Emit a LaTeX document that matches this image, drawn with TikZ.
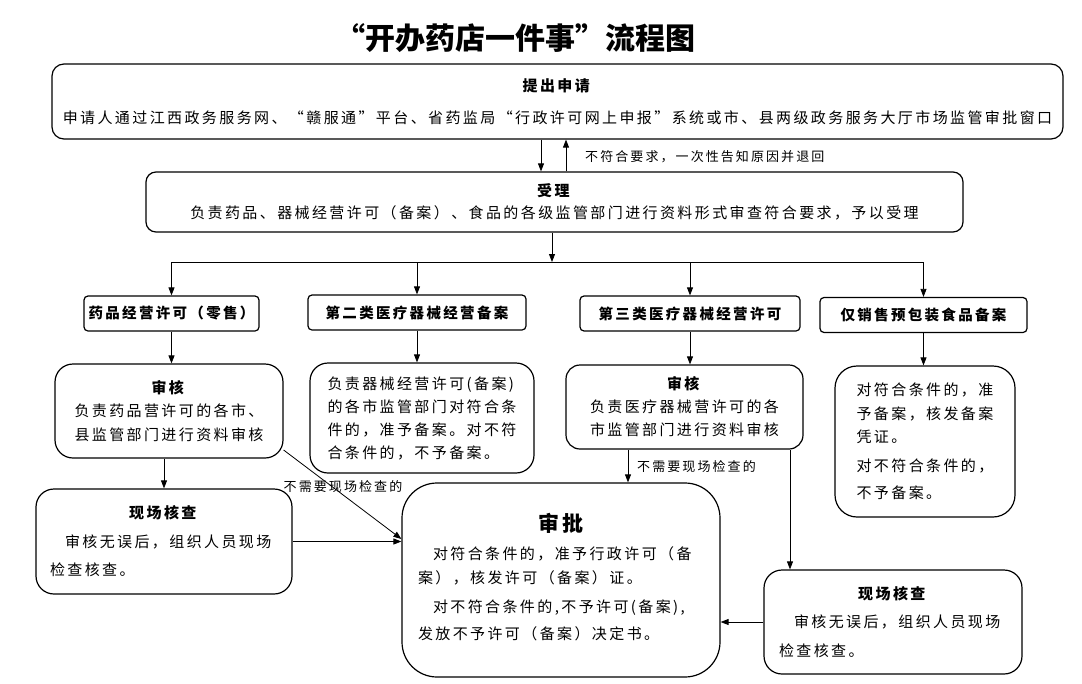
\documentclass[tikz,border=0pt]{standalone}
\usepackage{fontspec}
\setmainfont[LetterSpace=16]{Noto Sans CJK SC}
\newfontfamily\titlefont{Noto Sans CJK SC}
\usetikzlibrary{arrows.meta,calc}
\tikzset{
  bx/.style={draw,line width=1.2pt,inner sep=0pt,font=\fontsize{15}{23.5}\selectfont},
  hd/.style={draw,line width=1.2pt,rounded corners=4pt,inner sep=0pt,minimum height=35,font=\fontsize{14.5}{18}\selectfont\bfseries},
  ar/.style={-{Triangle[length=8pt,width=6pt]},line width=0.8pt},
  ln/.style={line width=0.8pt},
  lb/.style={inner sep=0pt,font=\fontsize{13}{15}\selectfont}
}

\begin{document}
\begin{tikzpicture}[x=1pt,y=-1pt]
\useasboundingbox (0,0) rectangle (1082,683);
\node[font=\titlefont\fontsize{30}{32}\selectfont\bfseries] (title) at (515,38) {“开办药店一件事”流程图};
\node[bx,rounded corners=12pt,minimum width=1011,minimum height=75,align=center] (apply) at (557.5,101.5) {\textbf{提出申请}\\[8.5pt]申请人通过江西政务服务网、“赣服通”平台、省药监局“行政许可网上申报”系统或市、县两级政务服务大厅市场监管审批窗口};
\node[bx,rounded corners=10pt,minimum width=817,minimum height=60,align=center,font=\fontsize{15}{22}\selectfont] (accept) at (554.5,202) {\textbf{受理}\\负责药品、器械经营许可（备案）、食品的各级监管部门进行资料形式审查符合要求，予以受理};
\foreach \n/\xx/\yy/\w/\t in {c1/171.5/313.5/175/药品经营许可（零售）,c2/417/312.5/218/第二类医疗器械经营备案,c3/690/313.5/220/第三类医疗器械经营许可,c4/923.5/315/207/仅销售预包装食品备案}{\node[hd,minimum width=\w] (\n) at (\xx,\yy) {\t};}
\node[bx,rounded corners=18pt,minimum width=228,minimum height=94,align=center] (rev1) at (169,411) {\textbf{审核}\\负责药品营许可的各市、\\县监管部门进行资料审核};
\node[bx,rounded corners=18pt,minimum width=224,minimum height=110,align=left,font=\fontsize{15}{23}\selectfont] (rec2) at (422,418) {负责器械经营许可(备案)\\的各市监管部门对符合条\\件的，准予备案。对不符\\合条件的，不予备案。};
\node[bx,rounded corners=14pt,minimum width=237,minimum height=84,align=center,font=\fontsize{15}{23}\selectfont] (rev3) at (684.5,407) {\textbf{审核}\\负责医疗器械营许可的各\\市监管部门进行资料审核};
\node[bx,rounded corners=22pt,minimum width=180,minimum height=151,align=left] (rec4) at (925,441.5) {对符合条件的，准\\予备案，核发备案\\凭证。\\[5pt]对不符合条件的，\\[4pt]不予备案。};
\node[bx,rounded corners=18pt,minimum width=256,minimum height=105,text width=228,align=left,font=\fontsize{15}{28.5}\selectfont] (site1) at (164,541.5) {\makebox[\linewidth]{\textbf{现场核查}}\\\hspace*{1em}审核无误后，组织人员现场\\检查核查。};
\node[bx,rounded corners=35pt,minimum width=318,minimum height=194,text width=286,align=left,font=\fontsize{15}{24}\selectfont] (approve) at (561,580) {\makebox[\linewidth]{\fontsize{21}{24}\selectfont\bfseries 审批}\\[4pt]\hspace*{1em}对符合条件的，准予行政许可（备\\案），核发许可（备案）证。\\[5pt]\hspace*{1em}对不符合条件的,不予许可(备案),\\[3pt]发放不予许可（备案）决定书。\\[-16pt]\mbox{}};
\node[bx,rounded corners=18pt,minimum width=258,minimum height=104,text width=228,align=left,font=\fontsize{15}{28.5}\selectfont] (site2) at (893,622) {\makebox[\linewidth]{\textbf{现场核查}}\\\hspace*{1em}审核无误后，组织人员现场\\检查核查。};
\draw[ar] ([xshift=-16.5pt]apply.south) -- ([xshift=-16.5pt]apply.south |- accept.north);
\draw[ar] ([xshift=8.5pt]apply.south |- accept.north) -- ([xshift=8.5pt]apply.south);
\node[lb,anchor=west] (back) at (585,157) {不符合要求，一次性告知原因并退回};
\coordinate (split) at (552,262);
\draw[ar] (accept.south -| split) -- (split);
\draw[ln] (c1.north |- split) -- (c4.north |- split);
\foreach \n in {c1,c2,c3,c4}{\draw[ar] (\n.north |- split) -- (\n.north);}
\foreach \a/\b in {c1/rev1,c2/rec2,c3/rev3,c4/rec4}{\draw[ar] (\a.south) -- (\a.south |- \b.north);}
\draw[ar] (rev1.south -| site1.north) -- (site1.north);
\draw[ar] (site1.east) -- (site1.east -| approve.west);
\draw[ar] ([yshift=-39pt]rev1.east) -- ([yshift=41pt]approve.west);
\node[lb] (skip1) at (343,487) {不需要现场检查的};
\draw[ar] ([xshift=-56.5pt]rev3.south) -- ([xshift=-56.5pt]rev3.south |- approve.north);
\node[lb,anchor=west] (skip3) at (637,467) {不需要现场检查的};
\draw[ar] ([xshift=105.5pt]rev3.south) -- ([xshift=105.5pt]rev3.south |- site2.north);
\draw[ar] (site2.west) -- (site2.west -| approve.east);
\end{tikzpicture}
\end{document}
